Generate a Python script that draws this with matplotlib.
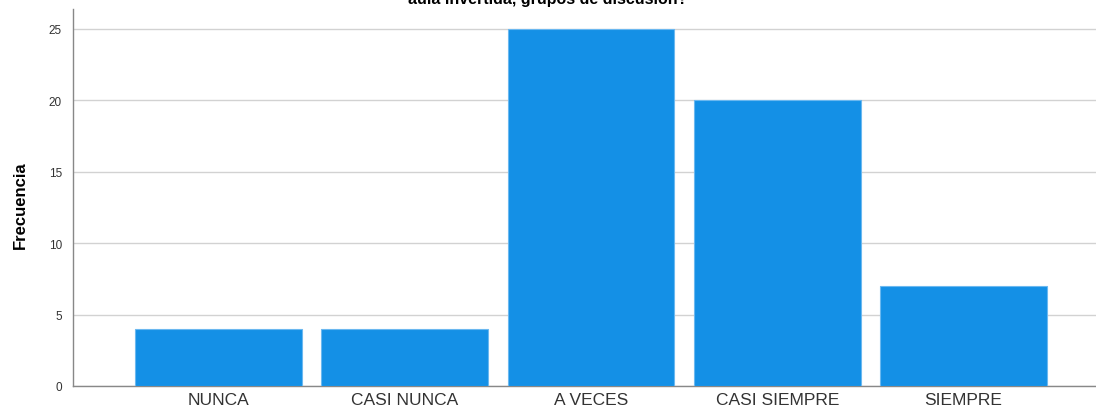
import matplotlib.pyplot as plt

# ---------- DATA ----------
categorias = ["NUNCA", "CASI NUNCA", "A VECES", "CASI SIEMPRE", "SIEMPRE"]
frecuencia = [4, 4, 25, 20, 7]
yticks = [0, 5, 10, 15, 20, 25]

plt.rcParams['font.family'] = ['Liberation Sans', 'DejaVu Sans']

fig = plt.figure(figsize=(10.96, 4.14), dpi=100)
ax = fig.add_axes([73/1096, 1 - 387/414, (1096 - 73)/1096, (387 - 10)/414])

x = range(len(categorias))
ax.bar(x, frecuencia, width=0.896, color="#1490E6", edgecolor="#6BB8F0",
       linewidth=0.8, zorder=3)

ax.set_xlim(-0.781, 4.711)
ax.set_ylim(0, 26.4)
ax.set_yticks(yticks)
ax.yaxis.grid(True, color="#d2d2d2", linewidth=1, zorder=0)
ax.set_axisbelow(True)

ax.set_xticks(list(x))
ax.set_xticklabels(categorias, fontsize=12.5, color="#333333")
ax.tick_params(axis="x", length=0, pad=4)
ax.tick_params(axis="y", length=0, pad=8, labelsize=8.5, labelcolor="#333333")

for s in ["top", "right"]:
    ax.spines[s].set_visible(False)
for s in ["left", "bottom"]:
    ax.spines[s].set_color("#888888")
    ax.spines[s].set_linewidth(1)

# y axis label
fig.text(20/1096, 1 - 205/414, "Frecuencia", rotation=90, ha="center",
         va="center", fontsize=12, fontweight="bold")

fig.text(0.5, 1 - 4/414, "aula invertida, grupos de discusión?",
         ha="center", va="baseline", fontsize=11.5, fontweight="bold")

fig.savefig("out.png", dpi=100)
